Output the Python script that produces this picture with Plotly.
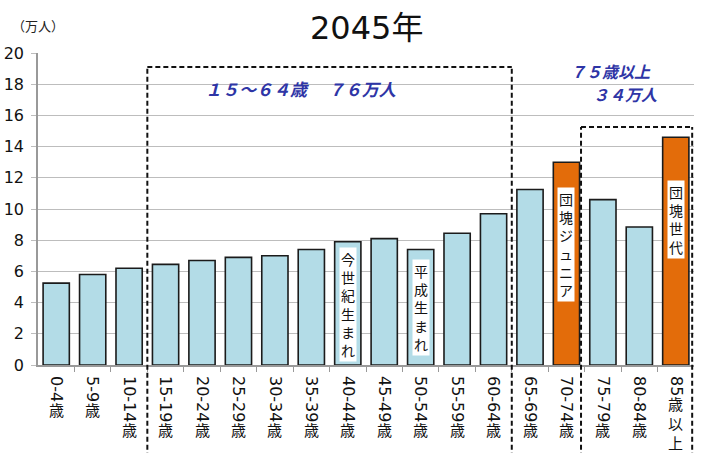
import plotly.graph_objects as go

# 2045年 年齢別人口（万人）
age_groups = ["0-4", "5-9", "10-14", "15-19", "20-24", "25-29", "30-34", "35-39",
              "40-44", "45-49", "50-54", "55-59", "60-64", "65-69", "70-74",
              "75-79", "80-84", "85"]
age_suffix = ["歳"] * 17 + ["歳<br>以<br>上"]
population = [5.25, 5.8, 6.2, 6.45, 6.7, 6.9, 7.0, 7.4, 7.9, 8.1, 7.4, 8.45,
              9.7, 11.25, 13.0, 10.6, 8.85, 14.6]
highlight = ["70-74", "85"]

notes = ["今世紀生まれ", "平成生まれ", "団塊ジュニア", "団塊世代"]
note_groups = ["40-44", "50-54", "70-74", "85"]

BLUE = "#B3DCE7"
ORANGE = "#E36C0A"
TEXT_BLUE = "#2E35A6"
N = len(age_groups)
idx = list(range(N))

colors = [ORANGE if a in highlight else BLUE for a in age_groups]

fig = go.Figure()
fig.add_trace(go.Bar(
    x=idx,
    y=population,
    marker=dict(color=colors, line=dict(color="#1b1b1b", width=1.6)),
    width=0.72,
    hovertext=age_groups,
))

annotations = []

# vertical labels inside bars
note_y = [3.9, 3.7, 7.7, 9.3]
for grp, txt, yy in zip(note_groups, notes, note_y):
    annotations.append(dict(
        x=age_groups.index(grp), y=yy, xref="x", yref="y",
        text="<br>".join(list(txt)),
        showarrow=False, bgcolor="white", borderpad=1,
        font=dict(size=14, color="#111", family="Noto Sans CJK JP"),
    ))

# "歳" part of the tick labels, written upright below the rotated digits
def digit_len(s, size=16):
    return sum(0.361 * size if c == "-" else 0.636 * size for c in s)

for i, (grp, suf) in enumerate(zip(age_groups, age_suffix)):
    annotations.append(dict(
        x=i, y=0, xref="x", yref="paper",
        text=suf, showarrow=False, yanchor="top",
        yshift=-(6 + digit_len(grp)),
        font=dict(size=15, color="#111", family="Noto Sans CJK JP"),
    ))

annotations += [
    dict(x=0.5, y=1.0, xref="paper", yref="paper", yanchor="middle", yshift=25,
         text="2045年", showarrow=False,
         font=dict(size=32, color="#111", family="DejaVu Sans, Noto Sans CJK JP")),
    dict(x=-0.043, y=1.0, xref="paper", yref="paper", xanchor="left",
         yanchor="middle", yshift=28, text="（万人）", showarrow=False,
         font=dict(size=13, color="#222", family="Noto Sans CJK JP")),
    dict(x=6.7, y=17.75, xref="x", yref="y", showarrow=False,
         text="<b><i>１５～６４歳　 ７６万人</i></b>",
         font=dict(size=17, color=TEXT_BLUE, family="Noto Sans CJK JP")),
    dict(x=15.2, y=18.85, xref="x", yref="y", showarrow=False, borderpad=0,
         text="<b><i>７５歳以上</i></b>",
         font=dict(size=16, color=TEXT_BLUE, family="Noto Sans CJK JP")),
    dict(x=15.6, y=17.4, xref="x", yref="y", showarrow=False, borderpad=0,
         text="<b><i>３４万人</i></b>",
         font=dict(size=16, color=TEXT_BLUE, family="Noto Sans CJK JP")),
]

def px(b):
    return (b + 0.5) / N

dash = dict(color="#111", width=2, dash="5px,3px")
shapes = [
    dict(type="line", xref="paper", yref="paper", x0=px(2.5), x1=px(2.5), y0=-0.4, y1=19.1 / 20, line=dash),
    dict(type="line", xref="paper", yref="paper", x0=px(2.5), x1=px(12.5), y0=19.1 / 20, y1=19.1 / 20, line=dash),
    dict(type="line", xref="paper", yref="paper", x0=px(12.5), x1=px(12.5), y0=-0.4, y1=19.1 / 20, line=dash),
    dict(type="line", xref="paper", yref="paper", x0=px(14.4), x1=px(14.4), y0=-0.4, y1=15.25 / 20, line=dash),
    dict(type="line", xref="paper", yref="paper", x0=px(14.4), x1=px(17.45), y0=15.25 / 20, y1=15.25 / 20, line=dash),
    dict(type="line", xref="paper", yref="paper", x0=px(17.45), x1=px(17.45), y0=-0.4, y1=15.25 / 20, line=dash),
]

fig.update_layout(
    width=704, height=453,
    margin=dict(l=38, r=10, t=53, b=88),
    paper_bgcolor="white", plot_bgcolor="white",
    font=dict(family="DejaVu Sans, Noto Sans CJK JP", color="#111"),
    showlegend=False,
    annotations=annotations,
    shapes=shapes,
    xaxis=dict(
        range=[-0.5, N - 0.5], tickvals=idx, ticktext=age_groups,
        tickangle=90, tickfont=dict(size=16, color="#111"),
        ticks="", ticklabelstandoff=6, automargin=False,
        showline=True, linecolor="#999", linewidth=1.5, showgrid=False,
        zeroline=False,
        minor=dict(tickvals=[i + 0.5 for i in idx[:-1]], ticks="outside",
                   ticklen=5, tickcolor="#999"),
    ),
    yaxis=dict(
        range=[0, 20], dtick=2, tickfont=dict(size=16, color="#111"),
        showgrid=True, gridcolor="#bdbdbd", gridwidth=1.3, automargin=False,
        ticks="outside", ticklen=5, tickcolor="#bdbdbd", ticklabelstandoff=4,
        showline=True, linecolor="#999", linewidth=1.5, zeroline=False,
    ),
)

# the page body has a default 8px margin; drop it so the chart fills the window
fig.write_html("out.html", config={"displayModeBar": False},
               post_script="document.body.style.margin = '0';")
